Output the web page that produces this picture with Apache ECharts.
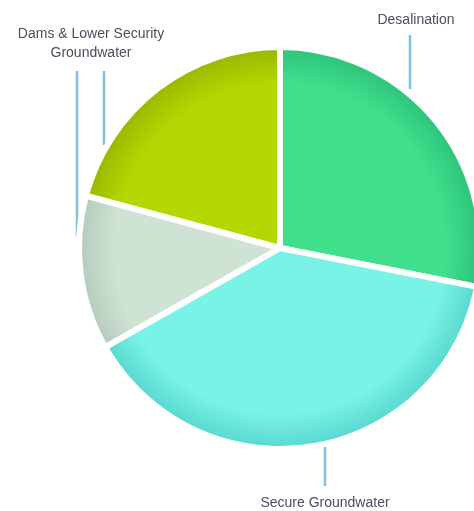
<!DOCTYPE html>
<html><head><meta charset="utf-8">
<script src="https://cdn.jsdelivr.net/npm/echarts@6/dist/echarts.min.js"></script>
<style>html,body{margin:0;padding:0;background:#fff}#c{width:474px;height:511px}</style>
</head><body><div id="c"></div>
<script>
const categories = ['Desalination', 'Secure Groundwater', 'Lower Security Groundwater', 'Dams'];
const values = [28.1, 38.7, 12.4, 20.8];
const labelTexts = ['Desalination', 'Secure Groundwater', ' ', 'Dams & Lower Security\nGroundwater'];

const baseColors = ['#40df8c', '#7af3e7', '#cfe3d4', '#b3d700'];
const edgeColors = ['#2cc47a', '#58d8cf', '#b4cbbb', '#97b800'];
const CX = 280, CY = 248, R = 201;

const labelPos = [
  {x: 416, y: 20, line: [[410, 89], [410, 60], [410, 35]]},
  {x: 325, y: 503, line: [[325, 446], [325, 470], [325, 486]]},
  {x: 77, y: 80, line: [[77, 237], [77, 150], [77, 71]]},
  {x: 91, y: 44, line: [[104, 145], [104, 100], [104, 71]]}
];

const chart = echarts.init(document.getElementById('c'));
chart.setOption({
  animation: false,
  series: [{
    type: 'pie',
    center: [CX, CY],
    radius: R,
    startAngle: 90,
    clockwise: true,
    avoidLabelOverlap: false,
    itemStyle: {borderColor: '#ffffff', borderWidth: 6},
    label: {
      show: true,
      position: 'outside',
      fontFamily: 'Liberation Sans',
      fontSize: 14,
      color: '#4a4f5e',
      lineHeight: 19,
      align: 'center'
    },
    labelLine: {show: true, lineStyle: {color: '#7cc4d8', width: 2.5}},
    labelLayout: function (p) {
      const l = labelPos[p.dataIndex];
      return {x: l.x, y: l.y, align: 'center', verticalAlign: 'middle', labelLinePoints: l.line};
    },
    emphasis: {disabled: true},
    data: categories.map((n, i) => ({
      name: n,
      value: values[i],
      label: {formatter: labelTexts[i]},
      itemStyle: {
        color: {
          type: 'radial', x: CX, y: CY, r: R, global: true,
          colorStops: [
            {offset: 0, color: baseColors[i]},
            {offset: 0.82, color: baseColors[i]},
            {offset: 1, color: edgeColors[i]}
          ]
        }
      }
    }))
  }]
});
</script></body></html>
